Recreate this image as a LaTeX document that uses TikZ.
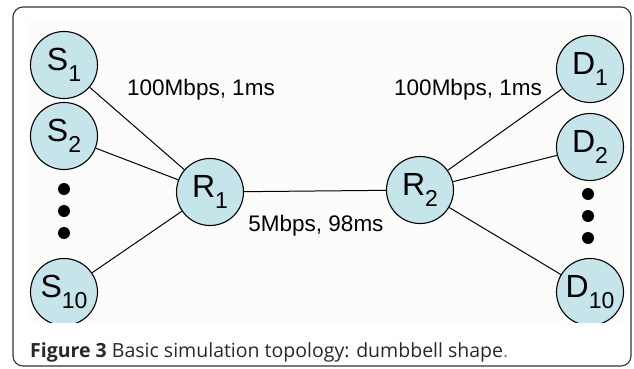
\documentclass[tikz,border=0pt]{standalone}
\usepackage{fontspec}
\setmainfont{Liberation Sans}
\newfontfamily\capfont{Open Sans}
\definecolor{nodeblue}{RGB}{197,229,235}
\definecolor{capgray}{RGB}{40,40,40}
\definecolor{figback}{RGB}{252,252,250}
\newcommand{\hostlbl}[2]{#1\raisebox{-0.36em}{\fontsize{23}{23}\selectfont #2}}

\begin{document}
\begin{tikzpicture}[x=1pt,y=-1pt,
  host/.style={circle,draw=black,line width=1.1pt,fill=nodeblue,minimum size=67pt,inner sep=0pt,font=\fontsize{32}{32}\selectfont},
  link/.style={line width=1pt},
  dotnode/.style={circle,fill=black,minimum size=12pt,inner sep=0pt},
  linklbl/.style={font=\fontsize{22.5}{22.5}\selectfont}]
\useasboundingbox (0,0) rectangle (634,369);
%FRAME
\draw[rounded corners=10pt,line width=1.1pt,black!80] (13,7) rectangle (631,366);
\fill[figback] (28,20) rectangle (626,322);
\begin{scope}
\clip (28,20) rectangle (626,322);
%sources
\node[host] (s1) at (64,65) {\hostlbl{S}{1}};
\node[host] (s2) at (64,136) {\hostlbl{S}{2}};
\node[host] (s10) at (64,292) {\hostlbl{S}{10}};
\foreach \y [count=\i] in {189,211,233}
  \node[dotnode] (sdot\i) at (64,\y) {};
%routers
\node[host] (r1) at (210,192) {\hostlbl{R}{1}};
\node[host] (r2) at (420,190) {\hostlbl{R}{2}};
%destinations
\node[host] (d1) at (590,69) {\hostlbl{D}{1}};
\node[host] (d2) at (590,147) {\hostlbl{D}{2}};
\node[host] (d10) at (590,292) {\hostlbl{D}{10}};
\foreach \y [count=\i] in {194,216,238}
  \node[dotnode] (ddot\i) at (588,\y) {};
\end{scope}
%links
\draw[link] (s1) -- (r1);
\draw[link] (s2) -- (r1);
\draw[link] (s10) -- (r1);
\draw[link] (r1) -- (r2);
\draw[link] (r2) -- (d1);
\draw[link] (r2) -- (d2);
\draw[link] (r2) -- (d10);
%labels
\node[linklbl] (accl) at (201,90) {100Mbps, 1ms};
\node[linklbl] (accr) at (468,90) {100Mbps, 1ms};
\node[linklbl] (bottl) at (316,226) {5Mbps, 98ms};
%CAPTION
\node[anchor=base west,inner sep=0pt,text=capgray,font=\capfont\fontsize{19.5}{19.5}\selectfont] (cap) at (30,357)
  {\textbf{Figure 3} Basic simulation topology: dumbbell shape\textcolor{gray}{.}};
\end{tikzpicture}
\end{document}
